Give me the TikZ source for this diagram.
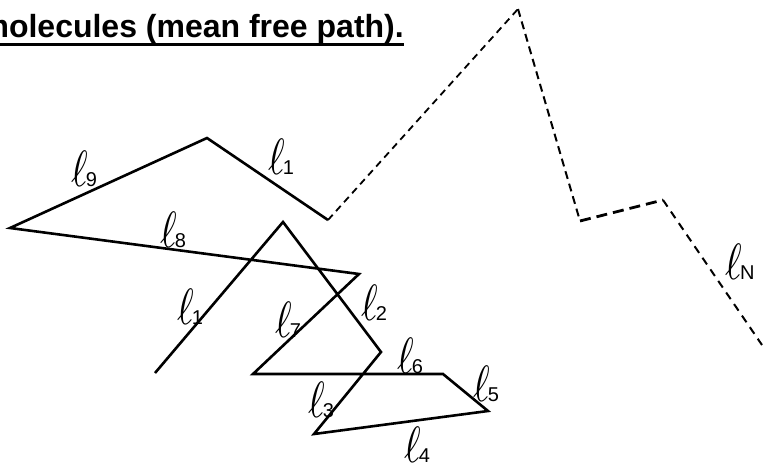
\documentclass[tikz,border=0pt]{standalone}
\usepackage{fontspec}
\setmainfont{Liberation Sans}
\usepackage{graphicx}
\newcommand{\Lsub}[1]{\scalebox{4.0}[5.1]{$\ell$}\kern-2pt{\fontsize{20}{20}\selectfont #1}}
\tikzset{
  seg/.style={line width=2.6pt},
  dseg/.style={line width=1.8pt, dash pattern=on 7pt off 5pt},
  lab/.style={inner sep=0pt, anchor=center}
}
\begin{document}
\begin{tikzpicture}[x=1pt,y=-1pt]
\useasboundingbox (0,0) rectangle (763,463);
\clip (0,0) rectangle (763,463);
% title
\node[anchor=base east, inner sep=0pt] (title) at (404,37)
  {\fontsize{32}{36}\selectfont\bfseries molecules (mean free path).};
\draw[line width=3pt] (0,44) -- (404,44);
% vertices
\coordinate (p0) at (155,373);
\coordinate (p1) at (283,222);
\coordinate (p2) at (381,352);
\coordinate (p3) at (314,434);
\coordinate (p4) at (488,411);
\coordinate (p5) at (443,374);
\coordinate (p6) at (253,374);
\coordinate (p7) at (359,274);
\coordinate (p8) at (10,228);
\coordinate (p9) at (207,138);
\coordinate (p10) at (328,220);
\coordinate (q1) at (518,9);
\coordinate (q2) at (580,221);
\coordinate (q3) at (663,200);
\coordinate (q4) at (762,345);
% solid path
\draw[seg] (p0) -- (p1) -- (p2) -- (p3) -- (p4) -- (p5) -- (p6) -- (p7) -- (p8) -- (p9) -- (p10);
% dashed path
\draw[dseg] (p10) -- (q1);
\draw[dseg, line width=2pt, dash pattern=on 8pt off 5pt] (q1) -- (q2);
\draw[dseg, line width=2.8pt, dash pattern=on 11pt off 6pt] (q2) -- (q3);
\draw[dseg, line width=2pt, dash pattern=on 8pt off 6pt] (q3) -- (q4);
% labels
\node[lab] (l9) at (84,169) {\Lsub{9}};
\node[lab] (l1a) at (281,157) {\Lsub{1}};
\node[lab] (l8) at (173,230) {\Lsub{8}};
\node[lab] (l1b) at (190,307) {\Lsub{1}};
\node[lab] (l7) at (288,320) {\Lsub{7}};
\node[lab] (l2) at (374,303) {\Lsub{2}};
\node[lab] (l6) at (410,356) {\Lsub{6}};
\node[lab] (l5) at (486,384) {\Lsub{5}};
\node[lab] (l3) at (321,400) {\Lsub{3}};
\node[lab] (l4) at (417,445) {\Lsub{4}};
\node[lab] (lN) at (740,262) {\Lsub{N}};
\end{tikzpicture}
\end{document}
